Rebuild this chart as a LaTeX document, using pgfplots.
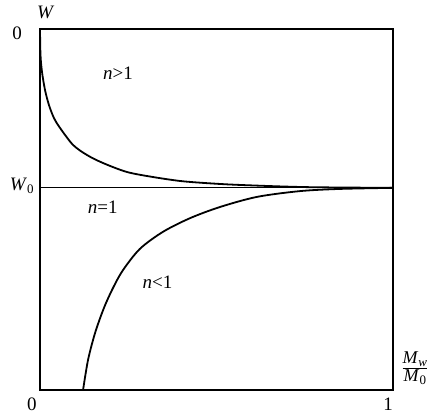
\documentclass[border=0pt]{standalone}
\usepackage{pgfplots}
\pgfplotsset{compat=1.18}
\usepackage{fontspec}
\setmainfont{Liberation Serif}
\newcommand\lf{\fontsize{19}{22}\selectfont}
\newcommand\subf{\fontsize{13}{15}\selectfont}

\begin{document}
\begin{tikzpicture}
\useasboundingbox (-40pt,-26pt) rectangle (395pt,390pt);
\begin{axis}[
    scale only axis,
    width=353pt, height=361pt,
    xmin=0, xmax=1, ymin=0, ymax=1,
    xtick=\empty, ytick=\empty,
    axis line style={line width=1.8pt},
    clip=false,
]
% W0 level
\addplot[black, line width=1.2pt] coordinates {(0,0.56) (1,0.56)};

% n>1
\addplot[black, line width=1.8pt, smooth, tension=0.5] coordinates {
    (0,1) (0.0014,0.928) (0.0057,0.881) (0.0142,0.831) (0.0255,0.789)
    (0.0397,0.753) (0.0567,0.726) (0.0935,0.679) (0.133,0.651) (0.178,0.629)
    (0.246,0.604) (0.320,0.590) (0.397,0.579) (0.473,0.573) (0.567,0.568)
    (0.756,0.562) (1,0.56)
};

% n<1
\addplot[black, line width=1.8pt, smooth, tension=0.5] coordinates {
    (0.122,0) (0.136,0.083) (0.156,0.158) (0.181,0.227) (0.207,0.283)
    (0.235,0.332) (0.283,0.391) (0.348,0.438) (0.425,0.476) (0.510,0.507)
    (0.615,0.535) (0.737,0.551) (0.850,0.557) (1,0.56)
};

\node at (axis cs:0.016,1.047) {\lf\textit{W}};
\node at (axis cs:-0.065,0.989) {\lf 0};
\node at (axis cs:-0.052,0.565) {\lf\textit{W}\raisebox{-0.35ex}{\subf 0}};
\node at (axis cs:-0.023,-0.039) {\lf 0};
\node at (axis cs:0.986,-0.039) {\lf 1};
\node at (axis cs:1.062,0.061) {$\displaystyle\frac{\mbox{\fontsize{18}{20}\selectfont\textit{M}\raisebox{-0.35ex}{\subf\textit{w}}}}{\mbox{\fontsize{18}{20}\selectfont\textit{M}\raisebox{-0.35ex}{\subf 0}}}$};
\node at (axis cs:0.221,0.878) {\lf\textit{n}>1};
\node at (axis cs:0.178,0.507) {\lf\textit{n}=1};
\node at (axis cs:0.333,0.299) {\lf\textit{n}<1};
\end{axis}
\end{tikzpicture}
\end{document}
